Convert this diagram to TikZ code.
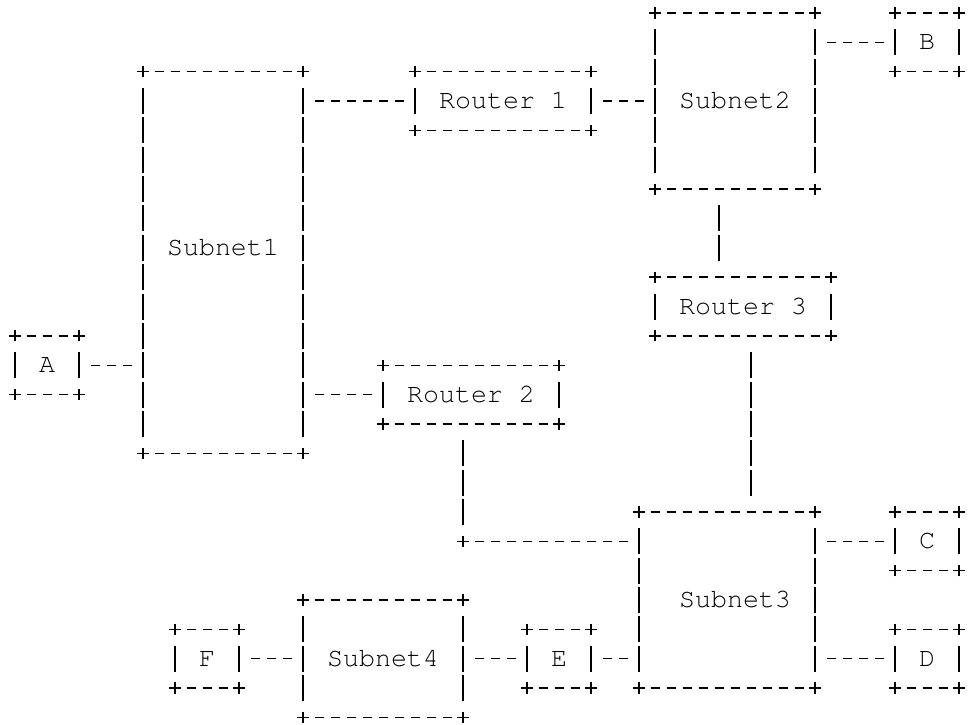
\documentclass[tikz,border=0pt]{standalone}
\usepackage[T1]{fontenc}
\usetikzlibrary{calc}

\begin{document}
\begin{tikzpicture}[x=8pt, y=-14.675pt, line width=0.7pt,
    netbox/.style={inner sep=0pt, outer sep=0pt, text height=7.6pt, text depth=0pt,
      font=\fontfamily{pcr}\fontsize{13.33pt}{16pt}\selectfont},
    router/.style={netbox, minimum width=88pt, minimum height=29.35pt},
    host/.style={netbox, minimum width=32pt, minimum height=29.35pt},
    hdash/.style={dash pattern=on 4.5pt off 3.5pt, dash phase=6.25pt, shorten <=4pt, shorten >=4pt},
    vbar/.style={dash pattern=on 13pt off 1.675pt, dash phase=13.8375pt, shorten <=7.3375pt, shorten >=7.3375pt},
    corner/.pic={\draw (-2.8pt,0) -- (2.8pt,0) (0,-2.8pt) -- (0,2.8pt);}]
  \useasboundingbox (-0.9375,-0.443) rectangle (59.6875,24.225);

  \node[netbox, minimum width=80pt, minimum height=190.775pt, text depth=14.675pt] (sub1) at (13,8.5) {Subnet1};
  \node[netbox, minimum width=80pt, minimum height=88.05pt] (sub2) at (45,3) {Subnet2};
  \node[netbox, minimum width=88pt, minimum height=88.05pt] (sub3) at (44.5,20) {\hspace*{8pt}Subnet3};
  \node[netbox, minimum width=80pt, minimum height=58.7pt] (sub4) at (23,22) {Subnet4};
  \node[router] (rtr1) at (30.5,3) {Router 1};
  \node[router] (rtr2) at (28.5,13) {Router 2};
  \node[router] (rtr3) at (45.5,10) {Router 3};
  \node[host] (hostA) at (2,12) {A};
  \node[host] (hostB) at (57,1) {B};
  \node[host] (hostC) at (57,18) {C};
  \node[host] (hostD) at (57,22) {D};
  \node[host] (hostE) at (34,22) {E};
  \node[host] (hostF) at (12,22) {F};
  \coordinate (bend) at (28,18);

  \foreach \n in {sub1,sub2,sub3,sub4,rtr1,rtr2,rtr3,hostA,hostB,hostC,hostD,hostE,hostF} {
    \draw[hdash] (\n.north west) -- (\n.north east);
    \draw[hdash] (\n.south west) -- (\n.south east);
    \draw[vbar] (\n.north west) -- (\n.south west);
    \draw[vbar] (\n.north east) -- (\n.south east);
    \foreach \k in {north west,north east,south west,south east}
      \pic at (\n.\k) {corner};
  }

  \draw[hdash] (hostA.east) -- (hostA.east -| sub1.west);
  \draw[hdash] (rtr1.west -| sub1.east) -- (rtr1.west);
  \draw[hdash] (rtr1.east) -- (sub2.west);
  \draw[hdash] (hostB.west -| sub2.east) -- (hostB.west);
  \draw[hdash] (rtr2.west -| sub1.east) -- (rtr2.west);
  \draw[hdash] (hostC.west -| sub3.east) -- (hostC.west);
  \draw[hdash] (hostD.west -| sub3.east) -- (hostD.west);
  \draw[hdash] (hostE.east) -- (hostE.east -| sub3.west);
  \draw[hdash] (sub4.east) -- (hostE.west);
  \draw[hdash] (hostF.east) -- (sub4.west);
  \draw[vbar] ($(sub2.south west)+(4,0)$) -- ($(rtr3.north west)+(4,0)$);
  \draw[vbar] ($(rtr3.south west)+(6,0)$) -- ($(sub3.north west)+(7,0)$);
  \draw[vbar] ($(rtr2.south west)+(5,0)$) -- (bend);
  \draw[hdash] (bend) -- (bend -| sub3.west);
  \pic at (bend) {corner};
\end{tikzpicture}
\end{document}
